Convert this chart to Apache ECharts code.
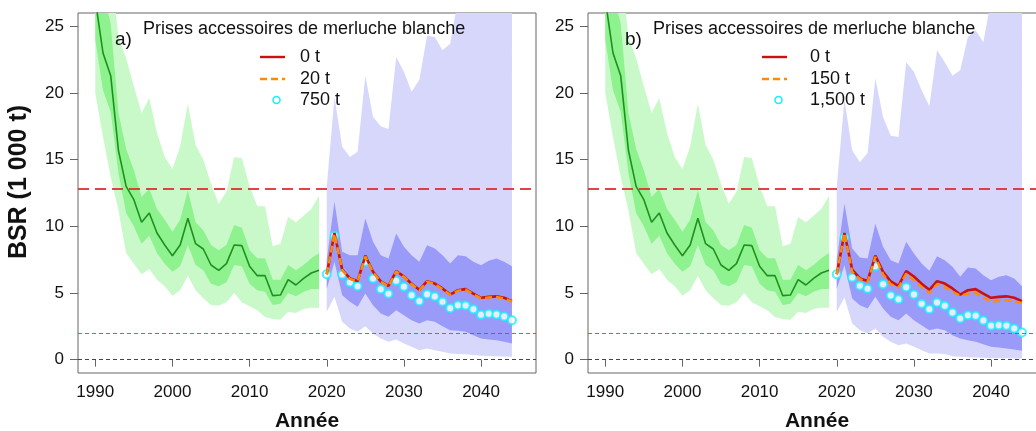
<!DOCTYPE html>
<html>
<head>
<meta charset="utf-8">
<script src="https://cdn.jsdelivr.net/npm/echarts@6/dist/echarts.min.js"></script>
<style>
  html, body { margin: 0; padding: 0; background: #fff; }
  #chart { width: 1036px; height: 431px; }
</style>
</head>
<body>
<div id="chart"></div>
<script>
// ---- Historical period (1990-2019): median and uncertainty bands ----
const histYears = [1990,1991,1992,1993,1994,1995,1996,1997,1998,1999,2000,2001,2002,2003,2004,2005,2006,2007,2008,2009,2010,2011,2012,2013,2014,2015,2016,2017,2018,2019];
const histMed     = [27.0,23.0,21.3,15.7,13.0,12.0,10.3,11.0,9.5,8.6,7.8,8.6,10.6,8.7,8.3,7.1,6.7,7.2,8.6,8.55,7.0,6.3,6.3,4.8,4.85,6.0,5.6,6.1,6.5,6.7];
const histInnerHi = [33.0,27.5,25.2,18.5,15.8,14.2,12.2,12.8,11.3,10.5,9.6,10.5,12.7,10.3,9.7,8.6,8.2,8.6,10.1,9.9,8.2,7.6,7.6,6.0,6.0,7.1,6.7,7.1,7.6,8.0];
const histInnerLo = [24.0,20.2,18.6,14.0,11.0,10.0,8.7,9.3,8.0,7.2,6.6,7.0,8.6,7.1,6.7,5.7,5.5,5.8,7.1,7.0,5.7,5.2,5.1,4.1,4.2,5.0,4.75,5.1,5.3,5.3];
const histOuterHi = [40.0,34.0,29.5,24.2,22.6,20.5,18.5,19.6,17.0,15.2,14.3,16.0,19.2,16.1,15.0,13.2,11.7,12.6,15.2,15.1,13.0,11.5,11.5,8.5,8.7,10.7,10.3,10.8,11.3,12.3];
const histOuterLo = [20.0,16.7,13.7,11.2,8.0,7.2,6.4,6.8,6.0,5.5,4.8,5.2,6.3,5.2,4.6,4.1,4.05,4.3,5.0,4.3,4.0,3.7,3.2,3.05,3.0,3.6,3.5,3.8,3.9,3.9];

// ---- Projection period (2020-2044) ----
const projYears = [2020,2021,2022,2023,2024,2025,2026,2027,2028,2029,2030,2031,2032,2033,2034,2035,2036,2037,2038,2039,2040,2041,2042,2043,2044];
// No bycatch (same in both panels)
const proj0t = [6.41,9.50,6.76,6.09,5.90,7.80,6.59,5.87,5.53,6.65,6.24,5.69,5.24,5.89,5.71,5.34,4.88,5.21,5.29,4.96,4.64,4.71,4.75,4.64,4.39];

// Panel a)
const projA20t  = [6.41,9.44,6.73,6.06,5.87,7.73,6.55,5.85,5.50,6.62,6.21,5.66,5.21,5.85,5.67,5.30,4.86,5.17,5.25,4.92,4.60,4.67,4.70,4.60,4.35];
const projA750t = [6.41,9.29,6.39,5.79,5.51,7.34,6.09,5.29,4.94,5.91,5.46,4.84,4.39,4.91,4.74,4.34,3.86,4.09,4.07,3.79,3.36,3.44,3.39,3.24,2.96];
const projAInnerHi = [7.5,11.84,8.09,7.84,7.84,10.59,8.84,7.84,7.59,9.46,8.46,7.84,7.34,8.59,8.34,7.84,7.22,7.84,7.76,7.34,7.09,7.41,7.59,7.34,7.01];
const projAInnerLo = [5.3,7.34,4.84,4.34,3.96,4.96,4.09,3.46,3.21,3.71,3.34,2.96,2.71,2.96,2.84,2.51,2.21,2.16,2.09,1.84,1.59,1.51,1.46,1.34,1.21];
const projAOuterHi = [12.96,19.7,15.96,15.2,15.6,21.3,18.2,17.5,17.3,22.7,21.6,20.1,21.0,24.3,24.2,23.2,23.7,27.0,28.0,29.0,30.0,30.0,31.0,31.0,31.0];
const projAOuterLo = [3.59,4.71,2.84,2.34,2.09,2.51,1.96,1.59,1.34,1.51,1.21,0.96,0.71,0.84,0.71,0.59,0.46,0.42,0.40,0.35,0.30,0.28,0.26,0.24,0.21];

// Panel b)
const projB150t  = [6.41,9.50,6.59,6.04,5.84,7.71,6.41,5.66,5.41,6.46,5.96,5.46,5.01,5.66,5.46,5.09,4.80,4.96,5.01,4.66,4.34,4.41,4.46,4.34,4.26];
const projB1500t = [6.41,9.16,6.16,5.54,5.31,7.01,5.66,4.81,4.54,5.44,4.89,4.19,3.79,4.29,4.04,3.54,3.09,3.34,3.29,2.94,2.54,2.59,2.54,2.34,2.04];
const projBInnerHi = [7.5,11.7,8.34,7.66,7.59,10.2,8.46,7.46,7.22,8.84,7.97,7.22,6.66,7.76,7.46,6.96,6.21,6.91,6.84,6.34,5.96,6.21,6.34,6.09,5.51];
const projBInnerLo = [5.3,7.09,4.59,4.09,3.84,4.71,3.84,3.21,2.96,3.46,2.96,2.59,2.21,2.34,2.21,1.84,1.59,1.46,1.34,1.16,0.96,0.91,0.84,0.76,0.66];
const projBOuterHi = [12.96,19.5,15.7,14.8,15.5,21.1,18.2,16.8,16.7,22.3,21.6,20.2,19.0,23.2,22.3,21.3,21.7,24.2,24.7,23.8,27.0,28.0,29.0,29.0,30.0];
const projBOuterLo = [3.59,4.66,2.71,2.21,1.96,2.34,1.71,1.34,1.09,1.21,0.96,0.71,0.46,0.46,0.42,0.26,0.21,0.18,0.16,0.14,0.12,0.11,0.10,0.09,0.08];

// Reference levels
const refUpper = 12.8;
const refLower = 2.0;

// Axis ticks
const xTicks = [1990, 2000, 2010, 2020, 2030, 2040];
const yTicks = [0, 5, 10, 15, 20, 25];

const panelTitle = 'Prises accessoires de merluche blanche';
const panels = [
  { tag: 'a)', labels: ['0 t', '20 t', '750 t'], mid: projA20t, low: projA750t,
    inHi: projAInnerHi, inLo: projAInnerLo, outHi: projAOuterHi, outLo: projAOuterLo },
  { tag: 'b)', labels: ['0 t', '150 t', '1,500 t'], mid: projB150t, low: projB1500t,
    inHi: projBInnerHi, inLo: projBInnerLo, outHi: projBOuterHi, outLo: projBOuterLo }
];

const FONT = '"Liberation Sans", Arial, Helvetica, sans-serif';
const C = {
  greenOuter: '#c9f9c9', greenInner: '#8ef28e', greenLine: '#1f8f1f',
  blueOuter: '#d7d7fc', blueInner: '#9a9af8',
  red: '#cc1010', orange: '#ff8c00', cyan: '#14f0ff',
  frame: '#666666', text: '#111111'
};

const pair = (xs, ys) => xs.map((x, i) => [x, ys[i]]);
const refRed = a => 'rgba(221,48,48,' + a + ')';

// Filled band between two series, drawn as one polygon through the axis scales
function band(idx, xs, lo, hi, color) {
  return {
    type: 'custom', xAxisIndex: idx, yAxisIndex: idx, clip: true, silent: true,
    data: xs.map((x, i) => [x, lo[i], hi[i]]),
    encode: { x: 0, y: [1, 2] },
    renderItem: function (params, api) {
      if (params.dataIndex !== 0) return null;
      const pts = [];
      for (let i = 0; i < xs.length; i++) pts.push(api.coord([xs[i], hi[i]]));
      for (let i = xs.length - 1; i >= 0; i--) pts.push(api.coord([xs[i], lo[i]]));
      return { type: 'polygon', shape: { points: pts }, style: { fill: color } };
    }
  };
}

const GRID_W = 458, GRID_TOP = 13, GRID_H = 360;
const gridLefts = [78, 588];

const grids = [], xAxes = [], yAxes = [], series = [], graphics = [];

panels.forEach((p, k) => {
  const left = gridLefts[k];
  grids.push({ left: left, top: GRID_TOP, width: GRID_W, height: GRID_H,
    outerBoundsMode: 'none', containLabel: false,
    show: true, borderColor: C.frame, borderWidth: 1, backgroundColor: 'transparent' });
  xAxes.push({
    gridIndex: k, type: 'value', min: 1987.76, max: 2047.12,
    axisLine: { show: false }, splitLine: { show: false },
    axisTick: { show: true, length: 7, lineStyle: { color: C.frame }, customValues: xTicks },
    axisLabel: { color: C.text, fontSize: 17, fontFamily: FONT, margin: 11, customValues: xTicks,
      formatter: v => String(v) },
    name: 'Année', nameLocation: 'middle', nameGap: 38,
    nameTextStyle: { fontSize: 21, fontWeight: 'bold', fontFamily: FONT, color: C.text }
  });
  yAxes.push({
    gridIndex: k, type: 'value', min: -1, max: 26,
    axisLine: { show: false }, splitLine: { show: false },
    axisTick: { show: true, length: 8, lineStyle: { color: C.frame }, customValues: yTicks },
    axisLabel: { color: C.text, fontSize: 17, fontFamily: FONT, margin: 14, customValues: yTicks,
      formatter: v => String(v) },
    name: k === 0 ? 'BSR (1 000 t)' : '', nameLocation: 'middle', nameGap: 46, nameRotate: 90,
    nameTextStyle: { fontSize: 25, fontWeight: 'bold', fontFamily: FONT, color: C.text,
      padding: [0, 0, 0, 22] }
  });

  // bands
  series.push(band(k, histYears, histOuterLo, histOuterHi, C.greenOuter));
  series.push(band(k, histYears, histInnerLo, histInnerHi, C.greenInner));
  series.push(band(k, projYears, p.outLo, p.outHi, C.blueOuter));
  series.push(band(k, projYears, p.inLo, p.inHi, C.blueInner));

  // reference lines
  series.push({
    type: 'line', xAxisIndex: k, yAxisIndex: k, data: [], silent: true,
    markLine: {
      symbol: 'none', silent: true, label: { show: false },
      data: [
        { yAxis: 0, lineStyle: { color: '#444444', width: 1, type: [4, 3] } },
        { yAxis: refLower, lineStyle: { color: refRed(0.85), width: 1, type: [4, 3] } },
        { yAxis: refUpper, lineStyle: { color: refRed(0.9), width: 2, type: [11, 6] } }
      ]
    }
  });

  // historical median
  series.push({
    type: 'line', xAxisIndex: k, yAxisIndex: k, data: pair(histYears, histMed),
    symbol: 'none', silent: true, lineStyle: { color: C.greenLine, width: 1.6 }
  });
  // projections
  series.push({
    type: 'line', name: p.labels[0], xAxisIndex: k, yAxisIndex: k, data: pair(projYears, proj0t),
    symbol: 'none', silent: true, lineStyle: { color: C.red, width: 2.6 }
  });
  series.push({
    type: 'line', name: p.labels[1], xAxisIndex: k, yAxisIndex: k, data: pair(projYears, p.mid),
    symbol: 'none', silent: true, lineStyle: { color: C.orange, width: 2.4, type: [7, 4] }
  });
  series.push({
    type: 'scatter', name: p.labels[2], xAxisIndex: k, yAxisIndex: k, data: pair(projYears, p.low),
    symbol: 'circle', symbolSize: 8, silent: true,
    itemStyle: { color: '#ffffff', borderColor: C.cyan, borderWidth: 2 }
  });

  // panel tag, title and key
  graphics.push({ type: 'text', z: 100, x: left + 37, y: 40, silent: true,
    style: { text: p.tag, font: '19px ' + FONT, fill: C.text, verticalAlign: 'middle' } });
  graphics.push({ type: 'text', z: 100, x: left + 65, y: 29, silent: true,
    style: { text: panelTitle, font: '18px ' + FONT, fill: C.text, verticalAlign: 'middle' } });
  const keyX = left + (k === 0 ? 182 : 174);
  const textX = left + 222;
  const rows = [57, 79, 100];
  graphics.push({ type: 'line', z: 100, silent: true,
    shape: { x1: keyX, y1: rows[0], x2: keyX + 25, y2: rows[0] },
    style: { stroke: C.red, lineWidth: 2.4 } });
  graphics.push({ type: 'line', z: 100, silent: true,
    shape: { x1: keyX, y1: rows[1], x2: keyX + 25, y2: rows[1] },
    style: { stroke: C.orange, lineWidth: 2.4, lineDash: [7, 4] } });
  graphics.push({ type: 'circle', z: 100, silent: true,
    shape: { cx: keyX + 16.5, cy: rows[2], r: 3.5 },
    style: { fill: '#ffffff', stroke: C.cyan, lineWidth: 1.5 } });
  p.labels.forEach((lab, i) => {
    graphics.push({ type: 'text', z: 100, silent: true, x: textX, y: rows[i],
      style: { text: lab, font: '18px ' + FONT, fill: C.text, verticalAlign: 'middle' } });
  });
});

const chart = echarts.init(document.getElementById('chart'), null, { renderer: 'canvas' });
chart.setOption({
  animation: false,
  backgroundColor: '#ffffff',
  textStyle: { fontFamily: FONT },
  grid: grids, xAxis: xAxes, yAxis: yAxes, series: series,
  graphic: graphics
});
</script>
</body>
</html>
